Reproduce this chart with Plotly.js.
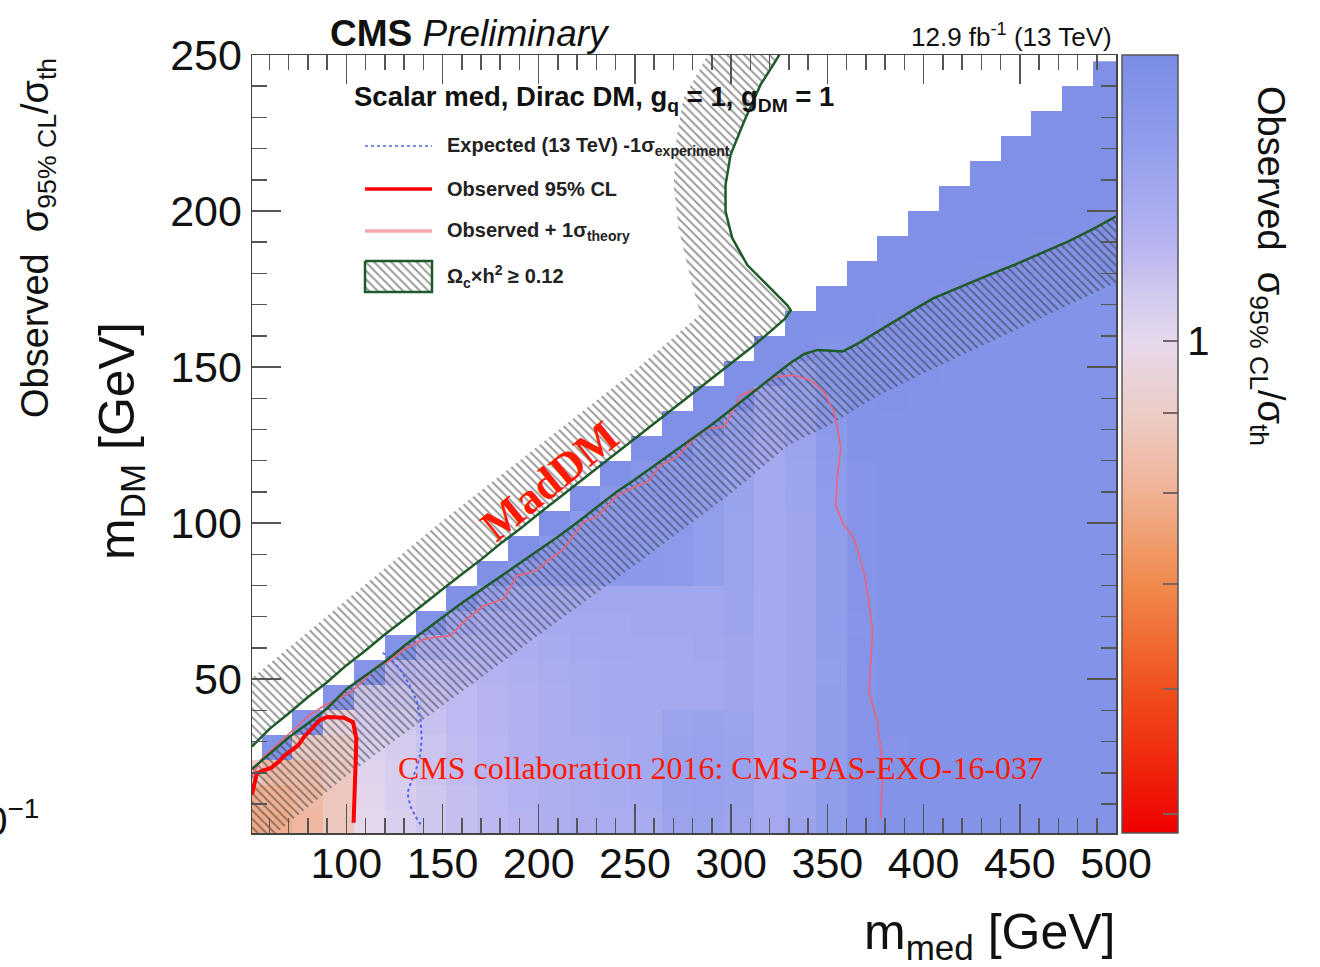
<!DOCTYPE html>
<html>
<head>
<meta charset="utf-8">
<script src="https://cdn.plot.ly/plotly-3.0.1.min.js"></script>
<style>
  html, body { margin: 0; padding: 0; background: #ffffff; }
  #chart { width: 1320px; height: 967px; }
</style>
</head>
<body>
<div id="chart"></div>
<script>
// Scan grid: mediator mass bin centres (GeV) and DM mass bin centres (GeV)
const medCenters = [48, 64, 80, 96, 112, 128, 144, 160, 176, 192, 208, 224, 240, 256, 272,
                    288, 304, 320, 336, 352, 368, 384, 400, 416, 432, 448, 464, 480, 496];
const dmCenters = [4, 12, 20, 28, 36, 44, 52, 60, 68, 76, 84, 92, 100, 108, 116, 124, 132,
                   140, 148, 156, 164, 172, 180, 188, 196, 204, 212, 220, 228, 236, 244];

// Observed sigma_95%CL / sigma_th, one list per mediator-mass column, from the lowest m_DM bin upward
const obsRatioByMed = [
  [0.78, 0.79, 0.90],
  [0.79, 0.80, 0.84, 1.44],
  [0.82, 0.83, 0.85, 0.90, 1.43],
  [0.88, 0.88, 0.89, 0.91, 0.96, 1.43],
  [1.00, 1.01, 1.02, 1.03, 1.05, 1.08, 1.43],
  [1.04, 1.05, 1.05, 1.06, 1.07, 1.09, 1.14, 1.44],
  [1.08, 1.08, 1.09, 1.09, 1.10, 1.11, 1.13, 1.20, 1.45],
  [1.11, 1.11, 1.12, 1.12, 1.13, 1.13, 1.15, 1.18, 1.26, 1.46],
  [1.14, 1.14, 1.15, 1.15, 1.16, 1.16, 1.17, 1.19, 1.22, 1.30, 1.46],
  [1.16, 1.17, 1.17, 1.18, 1.18, 1.18, 1.19, 1.20, 1.22, 1.26, 1.38, 1.47],
  [1.19, 1.19, 1.19, 1.20, 1.20, 1.20, 1.21, 1.22, 1.23, 1.25, 1.38, 1.39, 1.47],
  [1.20, 1.21, 1.21, 1.21, 1.22, 1.22, 1.22, 1.23, 1.24, 1.25, 1.38, 1.38, 1.39, 1.47],
  [1.21, 1.22, 1.22, 1.22, 1.23, 1.23, 1.23, 1.24, 1.24, 1.25, 1.38, 1.38, 1.38, 1.39, 1.48],
  [1.22, 1.23, 1.23, 1.23, 1.24, 1.24, 1.24, 1.24, 1.25, 1.25, 1.38, 1.38, 1.38, 1.38, 1.40, 1.48],
  [1.28, 1.29, 1.29, 1.29, 1.28, 1.24, 1.24, 1.24, 1.25, 1.25, 1.37, 1.37, 1.38, 1.38, 1.38, 1.47, 1.48],
  [1.29, 1.30, 1.30, 1.30, 1.29, 1.24, 1.24, 1.25, 1.25, 1.25, 1.33, 1.33, 1.33, 1.34, 1.34, 1.35, 1.47, 1.48],
  [1.28, 1.29, 1.29, 1.29, 1.28, 1.26, 1.26, 1.26, 1.27, 1.27, 1.28, 1.28, 1.28, 1.29, 1.29, 1.30, 1.32, 1.47, 1.48],
  [1.24, 1.24, 1.23, 1.23, 1.23, 1.23, 1.23, 1.23, 1.23, 1.23, 1.23, 1.23, 1.23, 1.23, 1.24, 1.24, 1.25, 1.27, 1.47, 1.48],
  [1.27, 1.27, 1.26, 1.26, 1.26, 1.26, 1.26, 1.26, 1.26, 1.26, 1.26, 1.26, 1.26, 1.27, 1.27, 1.28, 1.29, 1.31, 1.34, 1.47, 1.48],
  [1.34, 1.34, 1.33, 1.34, 1.34, 1.34, 1.33, 1.34, 1.34, 1.34, 1.34, 1.34, 1.35, 1.35, 1.36, 1.37, 1.38, 1.40, 1.42, 1.44, 1.48, 1.48],
  [1.43, 1.43, 1.42, 1.43, 1.43, 1.43, 1.43, 1.43, 1.42, 1.43, 1.43, 1.43, 1.43, 1.43, 1.43, 1.44, 1.44, 1.44, 1.44, 1.45, 1.48, 1.48, 1.48],
  [1.44, 1.44, 1.44, 1.43, 1.44, 1.44, 1.44, 1.44, 1.44, 1.44, 1.44, 1.44, 1.44, 1.44, 1.44, 1.44, 1.44, 1.45, 1.45, 1.45, 1.46, 1.48, 1.48, 1.48],
  [1.44, 1.44, 1.44, 1.44, 1.44, 1.44, 1.44, 1.44, 1.44, 1.44, 1.44, 1.44, 1.44, 1.44, 1.44, 1.44, 1.44, 1.44, 1.45, 1.45, 1.45, 1.48, 1.48, 1.48, 1.48],
  [1.44, 1.44, 1.44, 1.44, 1.44, 1.44, 1.44, 1.44, 1.44, 1.44, 1.44, 1.44, 1.44, 1.44, 1.44, 1.44, 1.44, 1.44, 1.44, 1.44, 1.45, 1.45, 1.48, 1.48, 1.48, 1.48],
  [1.44, 1.44, 1.44, 1.44, 1.44, 1.44, 1.44, 1.44, 1.44, 1.44, 1.44, 1.44, 1.44, 1.44, 1.44, 1.44, 1.44, 1.44, 1.44, 1.44, 1.45, 1.45, 1.46, 1.48, 1.48, 1.48, 1.48],
  [1.44, 1.44, 1.44, 1.44, 1.44, 1.44, 1.44, 1.44, 1.44, 1.44, 1.44, 1.44, 1.44, 1.44, 1.44, 1.44, 1.44, 1.44, 1.44, 1.44, 1.44, 1.45, 1.45, 1.48, 1.48, 1.48, 1.48, 1.48],
  [1.44, 1.44, 1.44, 1.44, 1.44, 1.44, 1.44, 1.44, 1.44, 1.44, 1.44, 1.44, 1.44, 1.44, 1.44, 1.44, 1.44, 1.44, 1.44, 1.44, 1.44, 1.45, 1.45, 1.46, 1.48, 1.48, 1.48, 1.48, 1.48],
  [1.44, 1.44, 1.44, 1.44, 1.44, 1.44, 1.44, 1.44, 1.44, 1.44, 1.44, 1.44, 1.44, 1.44, 1.44, 1.44, 1.44, 1.44, 1.44, 1.44, 1.44, 1.44, 1.45, 1.45, 1.48, 1.48, 1.48, 1.48, 1.48, 1.48],
  [1.44, 1.44, 1.44, 1.44, 1.44, 1.44, 1.44, 1.44, 1.44, 1.44, 1.44, 1.44, 1.44, 1.44, 1.44, 1.44, 1.44, 1.44, 1.44, 1.44, 1.44, 1.44, 1.45, 1.45, 1.46, 1.48, 1.48, 1.48, 1.48, 1.48, 1.48]
];

// Observed 95% CL exclusion contour (m_med, m_DM)
const obsMed = [51, 53.5, 57, 61, 65, 68, 72, 75, 78, 82, 86, 90, 95, 99, 103.5, 105.2, 104.9, 104.3, 103.8];
const obsDm  = [13.0, 19.8, 20.8, 21.6, 23.6, 25.6, 27.4, 28.8, 31.5, 34.2, 36.8, 37.9, 37.9, 37.6, 36.2, 31.0, 24.0, 14.0, 4.0];

// Observed + 1 sigma (theory) contour
const obsTheoMed = [51, 56, 63, 70, 74.4, 80, 88.2, 95, 102, 108, 116, 121.2, 130, 140.2, 147, 154, 162.8,
  171.4, 181.8, 188.8, 197.4, 206.1, 213, 223.3, 230.4, 240.8, 251.2, 256.4, 263.3, 272, 280.6, 287.6,
  296.3, 301.5, 305, 313.6, 322.3, 332.7, 341.4, 348.3, 353.5, 356, 357, 355.2, 354.4, 358, 363.9, 369,
  371.5, 373.5, 372.5, 371.7, 376.1, 378, 378.6, 377.7];
const obsTheoDm = [19.0, 24.5, 28.5, 32.5, 35.0, 38.0, 41.4, 43.5, 45.7, 49.0, 54.3, 55.4, 59.5, 62.8, 63.5,
  63.9, 69.3, 73.5, 75.7, 83.2, 84.3, 88.5, 91.7, 100.4, 102.0, 108.8, 112.0, 113.1, 118.5, 121.2, 127.0,
  130.3, 130.8, 136.7, 141.0, 143.1, 146.9, 147.4, 145.8, 142.0, 135.6, 128.0, 123.8, 115.0, 105.6, 100.0,
  95.0, 84.3, 75.0, 66.0, 56.0, 45.7, 36.1, 26.0, 17.9, 5.1];

// Expected (13 TeV) -1 sigma (experiment) contour
const expMed = [119, 121, 124.6, 128, 131.6, 134.5, 136.8, 138.6, 139.2, 138.5, 136.8, 134, 131.8, 133.3, 136, 138.5];
const expDm  = [58.5, 57.5, 55.4, 53.0, 49.5, 46.0, 42.5, 37.0, 31.0, 26.0, 22.0, 17.5, 13.6, 9.3, 6.0, 3.5];

// Relic density boundary Omega h^2 = 0.12, upper branch (diagonal then turning up)
const relicUpMed = [51, 60, 70, 80, 90, 100, 110, 120, 130, 140, 150, 160, 170, 180, 190, 200, 210, 220,
  230, 240, 250, 260, 270, 280, 290, 300, 310, 320, 328, 331, 329.2, 320.5, 308.4, 300.6, 297.1, 297.1,
  299.7, 306.7, 315.3, 322, 326];
const relicUpDm = [28.4, 34.0, 39.0, 44.2, 49.0, 54.4, 59.2, 64.3, 69.0, 74.0, 78.8, 83.6, 88.3, 93.4, 98.0,
  103.0, 107.8, 112.6, 117.4, 122.3, 127.0, 132.0, 136.8, 141.6, 146.5, 151.2, 156.0, 161.2, 165.5, 168.2,
  169.8, 175.2, 182.7, 191.3, 199.8, 208.4, 218.0, 228.7, 240.5, 247.0, 251.0];
// outer edge of the hatched side of the upper branch (listed from the top down)
const relicUpEdgeMed = [291, 284.1, 275.3, 271.6, 270.1, 272.7, 278.9, 284, 250, 150, 51, 48, 48];
const relicUpEdgeDm  = [254, 245.8, 236.2, 223.3, 208.3, 194.4, 178.4, 166.9, 149, 100.8, 50.4, 50.4, 28.4];

// Relic density boundary, lower branch
const relicLoMed = [51, 60, 70, 80, 90, 100, 110, 120, 130, 140, 150, 160, 170, 180, 190, 200, 210, 220,
  230, 240, 250, 260, 270, 280, 290, 300, 310, 320, 330, 338, 345, 352, 358, 366, 374, 385, 395, 405, 420,
  435, 447, 460, 475, 488, 500];
const relicLoDm = [21.2, 26.0, 31.3, 35.8, 40.6, 46.8, 51.2, 55.6, 60.6, 65.2, 69.6, 74.4, 78.6, 82.8, 87.2,
  91.2, 95.6, 100.2, 105.0, 109.8, 114.0, 118.4, 122.7, 127.2, 131.6, 136.4, 141.2, 146.0, 151.0, 154.2,
  155.5, 155.2, 155.0, 157.6, 160.6, 164.8, 168.4, 172.0, 176.0, 179.8, 182.7, 186.2, 190.2, 194.2, 198.3];
// outer edge of the hatched side of the lower branch (listed right to left)
const relicLoEdgeMed = [503, 500, 450, 400, 374, 350, 330, 300, 250, 200, 150, 100, 70, 51, 48, 48];
const relicLoEdgeDm  = [177, 177, 162.5, 148, 140, 131, 125, 109.5, 86.5, 64, 41.5, 19, 4, -6, -6, 21.2];

// Colour axis: log10 of the ratio, palette running red -> white -> blue
const ratioMin = 0.486, ratioMax = 1.52;
const cbTickRatios = [0.5, 0.6, 0.7, 0.8, 0.9, 1];
const cbTickText = ['', '', '', '', '', '1'];
const palette = [
  [0.00, '#f00000'], [0.18, '#f04e1c'], [0.32, '#f08a4c'], [0.44, '#f0b296'],
  [0.54, '#ecccc6'], [0.63, '#e6d8ec'], [0.69, '#d2caee'], [0.75, '#bab6f0'],
  [0.81, '#a6aaef'], [0.88, '#929eec'], [1.00, '#7a8ce4']
];

const zLog = dmCenters.map((_, j) =>
  medCenters.map((_, i) => {
    const v = obsRatioByMed[i][j];
    return (v === undefined || v === null) ? null : Math.log10(v);
  })
);

const FONT = 'Liberation Sans, Arial, Helvetica, sans-serif';
const SERIF = 'Liberation Serif, Times New Roman, serif';
const GREEN = '#1f5a2a';

// Plot frame in page pixels, used to place free text in paper coordinates
const FRAME = { left: 252, right: 1116, top: 55, bottom: 833 };
const paperX = px => (px - FRAME.left) / (FRAME.right - FRAME.left);
const paperY = py => (FRAME.bottom - py) / (FRAME.bottom - FRAME.top);

// Fractional height of ratio = 1 along the colour bar (for its longer tick)
const unitFrac = (0 - Math.log10(ratioMin)) / (Math.log10(ratioMax) - Math.log10(ratioMin));

const hatchStyle = { shape: '\\', fgcolor: '#333333', size: 6, solidity: 0.32, fillmode: 'overlay' };

const traces = [
  {
    type: 'heatmap', x: medCenters, y: dmCenters, z: zLog,
    zmin: Math.log10(ratioMin), zmax: Math.log10(ratioMax),
    colorscale: palette, zsmooth: false, hoverinfo: 'skip',
    colorbar: {
      thickness: 56, thicknessmode: 'pixels', len: 1, lenmode: 'fraction',
      x: paperX(1122), xanchor: 'left', xpad: 0, y: 0.5, yanchor: 'middle', ypad: 0,
      outlinewidth: 1.5, outlinecolor: '#555555',
      tickmode: 'array', tickvals: cbTickRatios.map(Math.log10), ticktext: cbTickText,
      ticks: 'inside', ticklen: 15, tickwidth: 2, tickcolor: '#7a6464',
      tickfont: { family: FONT, size: 40, color: '#111111' }
    }
  },
  { x: relicUpMed.concat(relicUpEdgeMed), y: relicUpDm.concat(relicUpEdgeDm),
    type: 'scatter', mode: 'lines', fill: 'toself', fillcolor: 'rgba(0,0,0,0)',
    fillpattern: hatchStyle, line: { width: 0 }, hoverinfo: 'skip' },
  { x: relicLoMed.concat(relicLoEdgeMed), y: relicLoDm.concat(relicLoEdgeDm),
    type: 'scatter', mode: 'lines', fill: 'toself', fillcolor: 'rgba(0,0,0,0)',
    fillpattern: hatchStyle, line: { width: 0 }, hoverinfo: 'skip' },
  { x: obsTheoMed, y: obsTheoDm, type: 'scatter', mode: 'lines',
    line: { color: '#ec6478', width: 1.6 }, hoverinfo: 'skip' },
  { x: expMed, y: expDm, type: 'scatter', mode: 'lines',
    line: { color: '#5063f0', width: 2, dash: 'dot' }, hoverinfo: 'skip' },
  { x: obsMed, y: obsDm, type: 'scatter', mode: 'lines',
    line: { color: '#ff0000', width: 4 }, hoverinfo: 'skip' },
  { x: relicUpMed, y: relicUpDm, type: 'scatter', mode: 'lines',
    line: { color: GREEN, width: 2.5 }, hoverinfo: 'skip' },
  { x: relicLoMed, y: relicLoDm, type: 'scatter', mode: 'lines',
    line: { color: GREEN, width: 2.5 }, hoverinfo: 'skip' }
];

// Legend samples drawn in a pixel frame (x2/y2) laid over the plot
const legendSampleX = [365, 432];
const legendRows = { expected: 146, observed: 189, theory: 231, relicTop: 261, relicBottom: 292 };
traces.push(
  { x: legendSampleX, y: [legendRows.expected, legendRows.expected], xaxis: 'x2', yaxis: 'y2',
    type: 'scatter', mode: 'lines', line: { color: '#5063f0', width: 1.6, dash: 'dot' }, hoverinfo: 'skip' },
  { x: legendSampleX, y: [legendRows.observed, legendRows.observed], xaxis: 'x2', yaxis: 'y2',
    type: 'scatter', mode: 'lines', line: { color: '#ff0000', width: 3.5 }, hoverinfo: 'skip' },
  { x: legendSampleX, y: [legendRows.theory, legendRows.theory], xaxis: 'x2', yaxis: 'y2',
    type: 'scatter', mode: 'lines', line: { color: '#f8a8b0', width: 3.5 }, hoverinfo: 'skip' },
  { x: [legendSampleX[0], legendSampleX[1], legendSampleX[1], legendSampleX[0], legendSampleX[0]],
    y: [legendRows.relicTop, legendRows.relicTop, legendRows.relicBottom, legendRows.relicBottom, legendRows.relicTop],
    xaxis: 'x2', yaxis: 'y2', type: 'scatter', mode: 'lines', fill: 'toself', fillcolor: 'rgba(0,0,0,0)',
    fillpattern: hatchStyle, line: { color: GREEN, width: 2.5 }, hoverinfo: 'skip' }
);

function label(text, px, py, opts) {
  return Object.assign({
    text: text, x: paperX(px), y: paperY(py), xref: 'paper', yref: 'paper', showarrow: false,
    xanchor: 'center', yanchor: 'middle',
    font: { family: FONT, size: 20, color: '#111111' }
  }, opts || {});
}

const legendFont = { family: FONT, size: 20, color: '#222' };
const annotations = [
  label('<b>CMS</b> <i>Preliminary</i>', 328, 33, { xanchor: 'left', font: { family: FONT, size: 37, color: '#111' } }),
  label('12.9 fb<sup>-1</sup> (13 TeV)', 1114, 36, { xanchor: 'right', font: { family: FONT, size: 26, color: '#111' } }),
  label('<b>Scalar med, Dirac DM, g<sub>q</sub> = 1, g<sub>DM</sub> = 1</b>', 352, 98,
        { xanchor: 'left', font: { family: FONT, size: 27.5, color: '#111' } }),
  label('<b>Expected (13 TeV) -1σ<sub>experiment</sub></b>', 445, 146, { xanchor: 'left', font: legendFont }),
  label('<b>Observed 95% CL</b>', 445, 189, { xanchor: 'left', font: legendFont }),
  label('<b>Observed + 1σ<sub>theory</sub></b>', 445, 232, { xanchor: 'left', font: legendFont }),
  label('<b>Ω<sub>c</sub>×h<sup>2</sup> ≥ 0.12</b>', 445, 276, { xanchor: 'left', font: legendFont }),
  label('<b>MadDM</b>', 549, 481, { textangle: -39, font: { family: SERIF, size: 44, color: '#ff1a00' } }),
  label('CMS collaboration 2016: CMS-PAS-EXO-16-037', 720, 768, { font: { family: SERIF, size: 32, color: '#ff1a00' } }),
  label('m<sub>med</sub> [GeV]', 1117, 935, { xanchor: 'right', font: { family: FONT, size: 50, color: '#111' } }),
  label('m<sub>DM</sub> [GeV]', 120, 441, { textangle: -90, font: { family: FONT, size: 50, color: '#111' } }),
  label('Observed  σ<sub>95% CL</sub>/σ<sub>th</sub>', 1268, 266, { textangle: 90, font: { family: FONT, size: 38, color: '#111' } }),
  label('Observed  σ<sub>95% CL</sub>/σ<sub>th</sub>', 38, 238, { textangle: -90, font: { family: FONT, size: 38, color: '#111' } }),
  label('10<sup>−1</sup>', 41, 818, { xanchor: 'right', font: { family: FONT, size: 40, color: '#111' } })
];

const axisCommon = {
  ticks: 'inside', ticklen: 29, tickwidth: 1.5, tickcolor: '#555555',
  mirror: 'allticks', showline: true, linecolor: '#444444', linewidth: 1.5,
  showgrid: false, zeroline: false,
  tickfont: { family: FONT, size: 43, color: '#111111' },
  minor: { dtick: 10, tick0: 0, ticks: 'inside', ticklen: 15, tickwidth: 1.5, tickcolor: '#555555', showgrid: false }
};

const layout = {
  width: 1320, height: 967,
  margin: { l: FRAME.left, r: 1320 - FRAME.right, t: FRAME.top, b: 967 - FRAME.bottom, pad: 0 },
  paper_bgcolor: '#ffffff', plot_bgcolor: '#ffffff',
  font: { family: FONT, color: '#111111' },
  showlegend: false,
  xaxis: Object.assign({}, axisCommon, { range: [51, 500], tickmode: 'array',
    tickvals: [100, 150, 200, 250, 300, 350, 400, 450, 500], ticklabelstandoff: -8 }),
  yaxis: Object.assign({}, axisCommon, { range: [0.7, 250], tickmode: 'array', tickvals: [50, 100, 150, 200, 250] }),
  xaxis2: { overlaying: 'x', anchor: 'y2', range: [FRAME.left, FRAME.right], visible: false, fixedrange: true },
  yaxis2: { overlaying: 'y', anchor: 'x2', range: [FRAME.bottom, FRAME.top], visible: false, fixedrange: true },
  shapes: [
    { type: 'line', xref: 'paper', yref: 'paper', x0: paperX(1148), x1: paperX(1178),
      y0: unitFrac, y1: unitFrac, line: { color: '#7a6464', width: 2 } }
  ],
  annotations: annotations
};

Plotly.newPlot('chart', traces, layout, { displayModeBar: false, staticPlot: true });
</script>
</body>
</html>
